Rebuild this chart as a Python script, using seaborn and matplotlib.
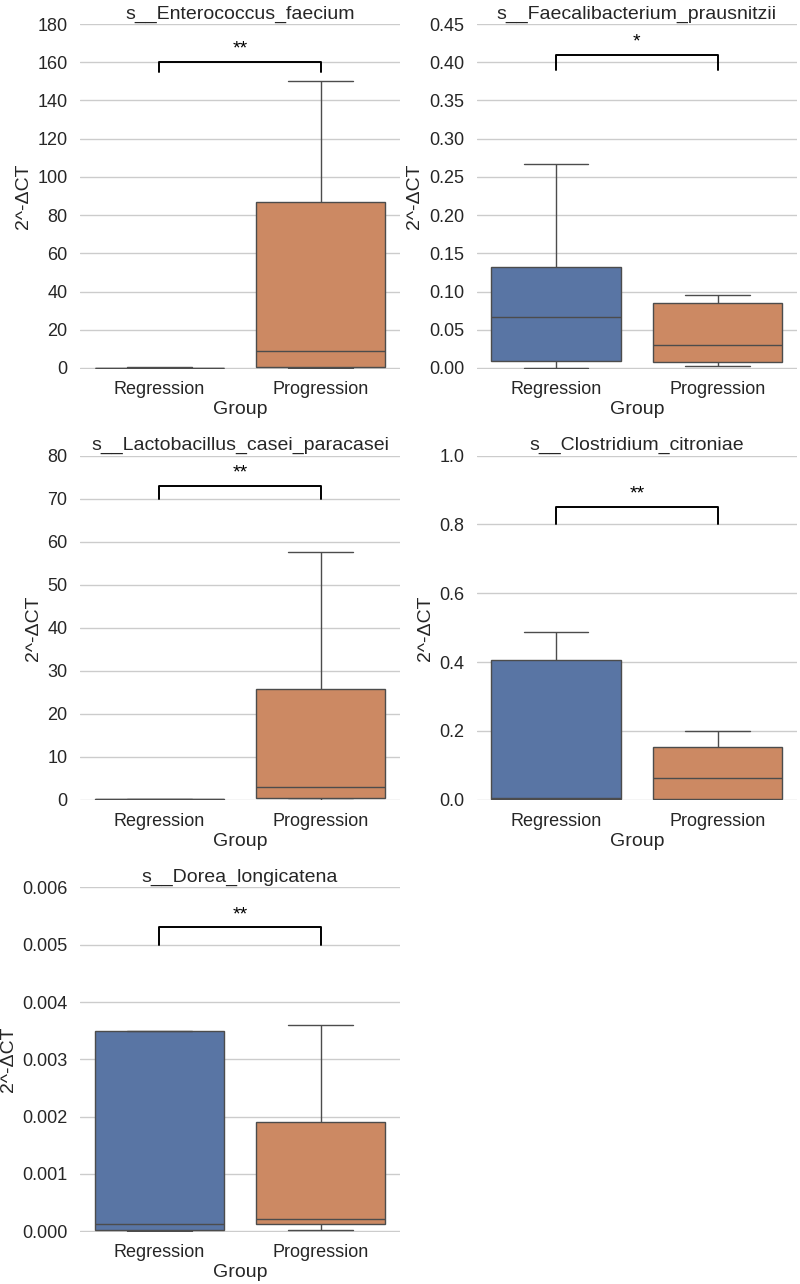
import numpy as np
import pandas as pd
import seaborn as sns
import matplotlib
matplotlib.use("Agg")
import matplotlib.pyplot as plt
from matplotlib.ticker import MultipleLocator, FormatStrFormatter

sns.set_theme(style="whitegrid")
plt.rcParams['font.family'] = ['Liberation Sans', 'DejaVu Sans']

groups = ["Regression", "Progression"]

titles = [
    "s__Enterococcus_faecium",
    "s__Faecalibacterium_prausnitzii",
    "s__Lactobacillus_casei_paracasei",
    "s__Clostridium_citroniae",
    "s__Dorea_longicatena",
]

# values (min, q1, median, q3, max) per group
enterococcus_reg = [0.0, 0.05, 0.1, 0.2, 0.3]
enterococcus_prog = [0.02, 0.5, 9.0, 87.0, 150.0]
faecali_reg = [0.0, 0.0087, 0.0667, 0.1315, 0.267]
faecali_prog = [0.002, 0.0078, 0.0305, 0.085, 0.096]
lacto_reg = [0.0, 0.02, 0.05, 0.1, 0.15]
lacto_prog = [0.02, 0.3, 2.9, 25.7, 57.6]
clostridium_reg = [0.0, 0.003, 0.005, 0.406, 0.488]
clostridium_prog = [0.0, 0.002, 0.063, 0.152, 0.2]
dorea_reg = [0.00001, 0.00002, 0.00012, 0.0035, 0.0035]
dorea_prog = [0.00002, 0.00012, 0.00022, 0.0019, 0.0036]

reg_values = [enterococcus_reg, faecali_reg, lacto_reg, clostridium_reg, dorea_reg]
prog_values = [enterococcus_prog, faecali_prog, lacto_prog, clostridium_prog, dorea_prog]

y_top = [180, 0.45, 80, 1.0, 0.006]
y_step = [20, 0.05, 10, 0.2, 0.001]
y_fmt = ["%d", "%.2f", "%d", "%.1f", "%.3f"]

bracket_top = [160, 0.41, 73, 0.85, 0.0053]
bracket_low = [155, 0.39, 70, 0.80, 0.0050]
stars = ["**", "*", "**", "**", "**"]

fig, axes = plt.subplots(3, 2, figsize=(8, 12.84), dpi=100)
fig.subplots_adjust(left=0.1, right=0.996, top=0.9813, bottom=0.0405,
                    wspace=0.24, hspace=0.2525)
axes = axes.flatten()

palette = sns.color_palette("deep")[:2]

for i in range(5):
    ax = axes[i]
    df = pd.DataFrame({
        "Group": [groups[0]] * len(reg_values[i]) + [groups[1]] * len(prog_values[i]),
        "value": list(reg_values[i]) + list(prog_values[i]),
    })
    sns.boxplot(data=df, x="Group", y="value", hue="Group", order=groups,
                hue_order=groups, palette=palette, legend=False,
                showfliers=False, ax=ax)
    top = y_top[i]
    ax.set_ylim(-0.002 * top, top)
    ax.yaxis.set_major_locator(MultipleLocator(y_step[i]))
    ax.yaxis.set_major_formatter(FormatStrFormatter(y_fmt[i]))
    ax.set_title(titles[i], fontsize=14, pad=4)
    ax.set_xlabel("Group", fontsize=14, labelpad=2)
    ax.set_ylabel("2^-ΔCT", fontsize=14, labelpad=4)
    ax.tick_params(axis="both", labelsize=13, pad=3)
    sns.despine(ax=ax, left=True, bottom=True)
    # significance bracket
    ax.plot([0, 0, 1, 1],
            [bracket_low[i], bracket_top[i], bracket_top[i], bracket_low[i]],
            color="black", lw=1.4, clip_on=False)
    ax.annotate(stars[i], xy=(0.5, bracket_top[i]), xytext=(0, 6),
                textcoords="offset points", ha="center", va="baseline",
                fontsize=14, color="black")

axes[5].axis("off")

fig.savefig("out.png", dpi=100)
